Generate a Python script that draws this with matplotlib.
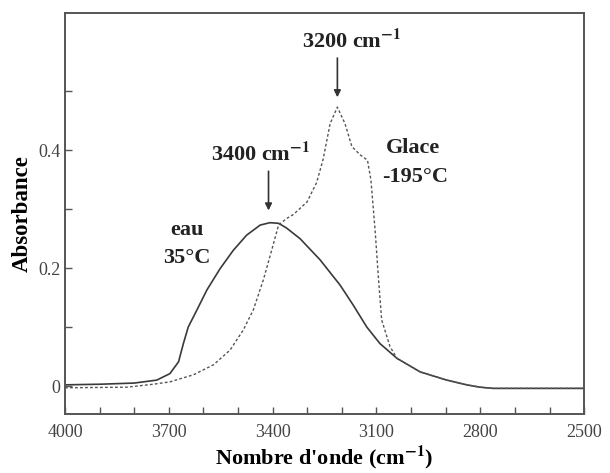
import matplotlib
matplotlib.use("Agg")
import matplotlib.pyplot as plt
from matplotlib.ticker import MultipleLocator, FixedLocator

plt.rcParams['font.family'] = ['Liberation Serif', 'DejaVu Serif']
plt.rcParams['mathtext.fontset'] = 'stix'

# spectre de l'eau liquide (35°C)
eau_x = [4000, 3900, 3800, 3735, 3697, 3672, 3658, 3644, 3624, 3590, 3552, 3514,
         3475, 3436, 3408, 3383, 3360, 3321, 3263, 3205, 3167, 3128, 3090, 3041,
         2974, 2897, 2839, 2801, 2763, 2500]
eau_y = [0.002, 0.003, 0.005, 0.010, 0.021, 0.041, 0.072, 0.100, 0.123, 0.163, 0.199, 0.230,
         0.256, 0.273, 0.277, 0.276, 0.268, 0.250, 0.214, 0.171, 0.137, 0.100, 0.072, 0.047,
         0.024, 0.010, 0.002, -0.002, -0.004, -0.004]

# spectre de la glace (-195°C)
glace_x = [4000, 3822, 3745, 3697, 3629, 3571, 3523, 3485, 3456, 3427, 3403, 3383,
           3360, 3340, 3301, 3273, 3254, 3234, 3213, 3191, 3171, 3147, 3126, 3116,
           3104, 3094, 3085, 3061, 3041, 2974, 2897, 2839, 2801, 2763, 2500]
glace_y = [-0.003, -0.002, 0.003, 0.007, 0.019, 0.036, 0.061, 0.095, 0.129, 0.180, 0.230, 0.273,
           0.284, 0.291, 0.312, 0.345, 0.385, 0.445, 0.473, 0.445, 0.406, 0.392, 0.383, 0.349,
           0.264, 0.180, 0.112, 0.067, 0.047, 0.024, 0.010, 0.002, -0.002, -0.004, -0.004]

x_ticks = [4000, 3700, 3400, 3100, 2800, 2500]
y_ticks = [0, 0.2, 0.4]
y_labels = ['0', '0.2', '0.4']

fig = plt.figure(figsize=(6.1, 4.73), dpi=100)
ax = fig.add_axes([0.1066, 0.1247, 0.851, 0.847])

ax.plot(eau_x, eau_y, '-', color='#3a3a3a', lw=1.2)
ax.plot(glace_x, glace_y, color='#555555', lw=1.0, linestyle=(0, (2, 1.6)))

ax.set_xlim(4000, 2500)
ax.set_ylim(-0.0475, 0.632)

ax.xaxis.set_major_locator(FixedLocator(x_ticks))
ax.xaxis.set_minor_locator(MultipleLocator(100))
ax.yaxis.set_major_locator(FixedLocator(y_ticks))
ax.yaxis.set_minor_locator(FixedLocator([0.1, 0.3, 0.5]))
ax.set_xticklabels([str(t) for t in x_ticks])
ax.set_yticklabels(y_labels)
ax.tick_params(which='both', direction='in', length=5, width=1, color='#555555',
               top=False, right=False, labelsize=13, labelcolor='#444444')
ax.tick_params(axis='x', pad=7)

for s in ax.spines.values():
    s.set_color('#555555')
    s.set_linewidth(1.4)

ax.set_xlabel("Nombre d'onde (cm$^{\\mathbf{-1}}$)", fontsize=16, fontweight='bold', labelpad=2)
ax.set_ylabel("Absorbance", fontsize=16.5, fontweight='bold', labelpad=4)

kw = dict(fontsize=16, fontweight='bold', color='#222222', ha='center', va='center')
ax.text(3434, 0.393, "3400 cm$^{\\mathbf{-1}}$", **kw)
ax.text(3171, 0.584, "3200 cm$^{\\mathbf{-1}}$", **kw)
ax.text(2994, 0.403, "Glace", **kw)
ax.text(2988, 0.355, "-195°C", **kw)
ax.text(3647, 0.264, "eau", **kw)
ax.text(3648, 0.217, "35°C", **kw)

arrow = dict(arrowstyle='-|>', color='#333333', lw=1.2, mutation_scale=10)
ax.annotate('', xy=(3412, 0.293), xytext=(3412, 0.369), arrowprops=arrow)
ax.annotate('', xy=(3213, 0.485), xytext=(3213, 0.561), arrowprops=arrow)

fig.savefig('out.png', dpi=100)
